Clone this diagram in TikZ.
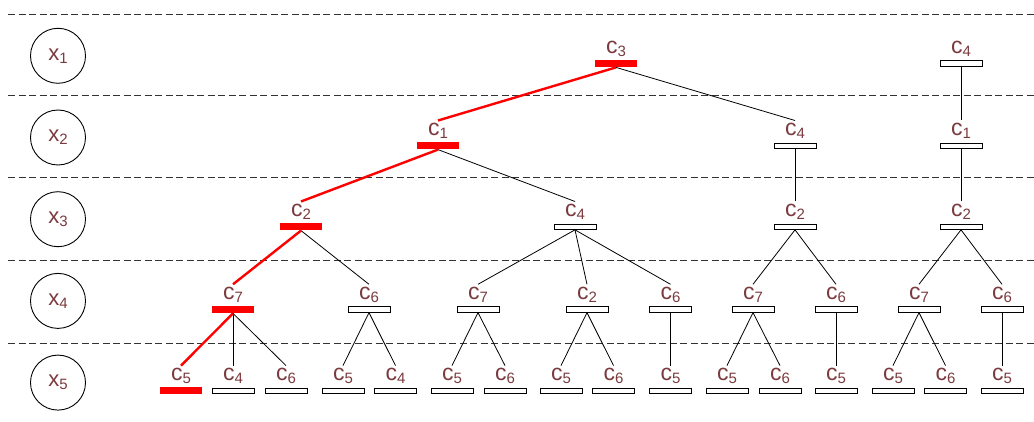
\documentclass[tikz,border=0pt]{standalone}
\usepackage{fontspec}
\setmainfont{Liberation Sans}
\definecolor{lblcol}{RGB}{122,58,62}
\definecolor{dashcol}{RGB}{50,50,50}
% variable name with a lowered index
\newcommand{\cv}[2]{#1\raisebox{-3pt}{\fontsize{15}{15}\selectfont #2}}
\tikzset{
  bar/.style={draw=black, line width=0.8pt, fill=white, rectangle,
    minimum width=42pt, minimum height=5.5pt, inner sep=0pt},
  hot/.style={draw=none, fill=red, minimum height=7pt},
  tag/.style={text=lblcol, font=\fontsize{23}{23}\selectfont, inner sep=0pt,
    text height=15pt, text depth=4pt, anchor=base},
  link/.style={draw=black, line width=0.8pt},
  hotlink/.style={draw=red, line width=2.4pt},
  lvl/.style={draw=black, line width=0.9pt, circle, minimum size=55pt,
    inner sep=0pt, text=lblcol, font=\fontsize{22}{22}\selectfont},
  sep/.style={draw=dashcol, line width=1pt, dash pattern=on 7pt off 3.5pt}
}
% tree node: name, x, y of bar, index, extra style
\newcommand{\tn}[5]{%
  \node[bar,#5] (#1) at (#2,#3) {};
  \node[tag] (#1t) at (#2,#3-10) {\cv{c}{#4}};
}
\begin{document}
\begin{tikzpicture}[x=1pt,y=-1pt]
\useasboundingbox (0,0) rectangle (1034,422);

% level separators
\foreach \yy in {15,96,178,261,343}
  \draw[sep] (8,\yy) -- (1034,\yy);

% variable circles
\node[lvl] (x1) at (58,55.8) {\cv{x}{1}};
\node[lvl] (x2) at (58,137.5) {\cv{x}{2}};
\node[lvl] (x3) at (58,219.2) {\cv{x}{3}};
\node[lvl] (x4) at (58,300.9) {\cv{x}{4}};
\node[lvl] (x5) at (58,382.6) {\cv{x}{5}};

% first tree
\tn{a}{616}{63.5}{3}{hot}
\tn{ab}{438}{145.7}{1}{hot}
\tn{ac}{795}{145.7}{4}{}
\tn{abb}{301}{226.7}{2}{hot}
\tn{abc}{575}{226.7}{4}{}
\tn{acb}{795}{226.7}{2}{}
\tn{abbb}{233}{309.5}{7}{hot}
\tn{abbc}{369}{309.5}{6}{}
\tn{abcb}{478}{309.5}{7}{}
\tn{abcc}{587}{309.5}{2}{}
\tn{abcd}{670.5}{309.5}{6}{}
\tn{acbb}{753}{309.5}{7}{}
\tn{acbc}{836}{309.5}{6}{}
\tn{e1}{181}{390.8}{5}{hot}
\tn{e2}{233}{390.8}{4}{}
\tn{e3}{286}{390.8}{6}{}
\tn{e4}{343}{390.8}{5}{}
\tn{e5}{395.5}{390.8}{4}{}
\tn{e6}{452}{390.8}{5}{}
\tn{e7}{505}{390.8}{6}{}
\tn{e8}{561}{390.8}{5}{}
\tn{e9}{613.5}{390.8}{6}{}
\tn{e10}{670.5}{390.8}{5}{}
\tn{e11}{727}{390.8}{5}{}
\tn{e12}{780}{390.8}{6}{}
\tn{e13}{836}{390.8}{5}{}

% second tree
\tn{b}{961}{63.5}{4}{}
\tn{bb}{961}{145.7}{1}{}
\tn{bbb}{961}{226.7}{2}{}
\tn{bbbb}{919}{309.5}{7}{}
\tn{bbbc}{1002}{309.5}{6}{}
\tn{f1}{893}{390.8}{5}{}
\tn{f2}{945.5}{390.8}{6}{}
\tn{f3}{1002}{390.8}{5}{}

% plain branches
\draw[link] (a.south) -- (act.north);
\draw[link] (ab.south) -- (abct.north);
\draw[link] (ac.south) -- (acbt.north);
\draw[link] (abb.south) -- (abbct.north);
\draw[link] (abc.south) -- (abcbt.north);
\draw[link] (abc.south) -- (abcct.north);
\draw[link] (abc.south) -- (abcdt.north);
\draw[link] (acb.south) -- (acbbt.north);
\draw[link] (acb.south) -- (acbct.north);
\draw[link] (abbb.south) -- (e2t.north);
\draw[link] (abbb.south) -- (e3t.north);
\draw[link] (abbc.south) -- (e4t.north);
\draw[link] (abbc.south) -- (e5t.north);
\draw[link] (abcb.south) -- (e6t.north);
\draw[link] (abcb.south) -- (e7t.north);
\draw[link] (abcc.south) -- (e8t.north);
\draw[link] (abcc.south) -- (e9t.north);
\draw[link] (abcd.south) -- (e10t.north);
\draw[link] (acbb.south) -- (e11t.north);
\draw[link] (acbb.south) -- (e12t.north);
\draw[link] (acbc.south) -- (e13t.north);
\draw[link] (b.south) -- (bbt.north);
\draw[link] (bb.south) -- (bbbt.north);
\draw[link] (bbb.south) -- (bbbbt.north);
\draw[link] (bbb.south) -- (bbbct.north);
\draw[link] (bbbb.south) -- (f1t.north);
\draw[link] (bbbb.south) -- (f2t.north);
\draw[link] (bbbc.south) -- (f3t.north);

% highlighted path
\draw[hotlink] (a.south) -- (abt.north);
\draw[hotlink] (ab.south) -- (abbt.north);
\draw[hotlink] (abb.south) -- (abbbt.north);
\draw[hotlink] (abbb.south) -- (e1t.north);
\end{tikzpicture}
\end{document}
